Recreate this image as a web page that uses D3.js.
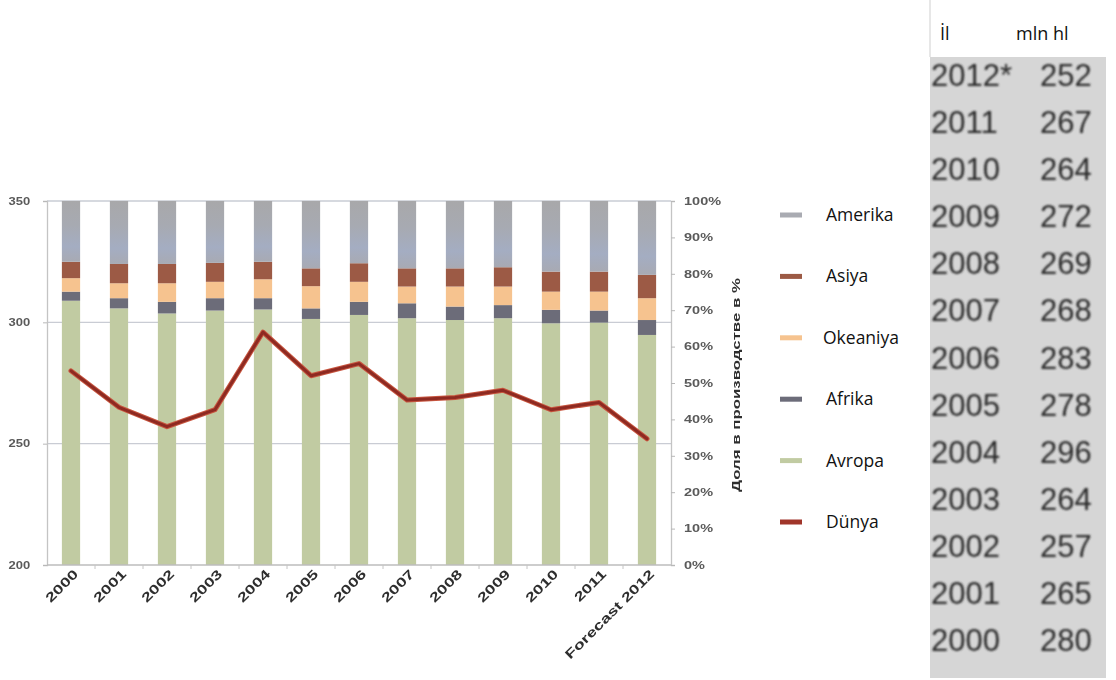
<!DOCTYPE html>
<html>
<head>
<meta charset="utf-8">
<script src="https://cdn.jsdelivr.net/npm/d3@7/dist/d3.min.js"></script>
<style>
  html, body { margin: 0; padding: 0; background: #fff; }
  svg { display: block; }
</style>
</head>
<body>
<svg id="chart" width="1116" height="680"></svg>
<script>
// Years on the category axis
const years = ["2000", "2001", "2002", "2003", "2004", "2005", "2006",
               "2007", "2008", "2009", "2010", "2011", "Forecast 2012"];

// Regional shares of production, % (stacked bottom to top)
const avropa   = [72.6, 70.5, 69.1, 69.9, 70.2, 67.6, 68.7, 67.8, 67.3, 67.8, 66.4, 66.6, 63.2];
const afrika   = [2.5, 2.8, 3.2, 3.4, 3.1, 2.9, 3.6, 4.1, 3.7, 3.6, 3.7, 3.3, 4.1];
const okeaniya = [3.7, 4.1, 5.1, 4.5, 5.2, 6.1, 5.5, 4.6, 5.5, 5.1, 5.0, 5.2, 6.0];
const asiya    = [4.5, 5.3, 5.3, 5.2, 4.8, 4.9, 5.1, 5.0, 5.0, 5.3, 5.5, 5.5, 6.4];
const amerika  = [16.7, 17.3, 17.3, 17.0, 16.7, 18.5, 17.1, 18.5, 18.5, 18.2, 19.4, 19.4, 20.3];

// World production, mln hl
const dunya = [280, 265, 257, 264, 296, 278, 283, 268, 269, 272, 264, 267, 252];

// Axis ticks
const leftTicks = [200, 250, 300, 350];
const pctTicks = [0, 10, 20, 30, 40, 50, 60, 70, 80, 90, 100];

// Table row labels (newest first)
const tableYears = ["2012*", "2011", "2010", "2009", "2008", "2007", "2006",
                    "2005", "2004", "2003", "2002", "2001", "2000"];

const seriesNames = ["Avropa", "Afrika", "Okeaniya", "Asiya", "Amerika"];
const seriesData = [avropa, afrika, okeaniya, asiya, amerika];
const colors = {
  Amerika: "#a9abb2",
  Asiya: "#9c5a44",
  Okeaniya: "#f6c38f",
  Afrika: "#6c6c79",
  Avropa: "#c1cba2",
  "Dünya": "#a0342a"
};

const svg = d3.select("#chart");
const defs = svg.append("defs");
defs.append("filter").attr("id", "soft")
  .append("feGaussianBlur").attr("stdDeviation", 0.55);
defs.append("filter").attr("id", "softer")
  .append("feGaussianBlur").attr("stdDeviation", 0.8);
const grad = defs.append("linearGradient").attr("id", "amerGrad")
  .attr("x1", 0).attr("y1", 0).attr("x2", 0).attr("y2", 1);
grad.append("stop").attr("offset", "0%").attr("stop-color", "#a8a8aa");
grad.append("stop").attr("offset", "40%").attr("stop-color", "#a7aab2");
grad.append("stop").attr("offset", "75%").attr("stop-color", "#a4adc2");
grad.append("stop").attr("offset", "100%").attr("stop-color", "#a8aab3");

const plot = { left: 47, right: 671, top: 201, bottom: 565 };

const x = d3.scaleBand().domain(years)
  .range([plot.left, plot.right]).paddingInner(0.62).paddingOuter(0.31);
const yLeft = d3.scaleLinear().domain([200, 350]).range([plot.bottom, plot.top]);
const yPct = d3.scaleLinear().domain([0, 100]).range([plot.bottom, plot.top]);

const g = svg.append("g").attr("filter", "url(#soft)");

// Horizontal gridlines
g.append("g").selectAll("line").data(leftTicks.filter(d => d > 200)).join("line")
  .attr("x1", plot.left).attr("x2", plot.right)
  .attr("y1", d => yLeft(d)).attr("y2", d => yLeft(d))
  .attr("stroke", "#c9ccd4").attr("stroke-width", 1.3);

// Stacked bars
const rows = years.map((yr, i) => {
  const r = { year: yr };
  seriesNames.forEach((s, k) => r[s] = seriesData[k][i]);
  return r;
});
const stack = d3.stack().keys(seriesNames)(rows);
g.append("g").selectAll("g").data(stack).join("g")
  .attr("fill", d => d.key === "Amerika" ? "url(#amerGrad)" : colors[d.key])
  .selectAll("rect").data(d => d).join("rect")
  .attr("x", d => x(d.data.year))
  .attr("width", x.bandwidth())
  .attr("y", d => yPct(d[1]))
  .attr("height", d => yPct(d[0]) - yPct(d[1]));

// Left axis
const axL = g.append("g").attr("transform", `translate(${plot.left},0)`)
  .call(d3.axisLeft(yLeft).tickValues(leftTicks).tickSize(4).tickPadding(9));
axL.select(".domain").attr("stroke", "#c4c4c4").attr("stroke-width", 1.3);
axL.selectAll(".tick line").attr("stroke", "#b8b8b8");
axL.selectAll(".tick text")
  .attr("font-family", "Liberation Sans, Arial, sans-serif")
  .attr("font-size", 10).attr("font-weight", "bold").attr("fill", "#5a5a5a")
  .attr("transform", "scale(1.3,1)");

// Bottom axis
const axB = g.append("g").attr("transform", `translate(0,${plot.bottom})`);
axB.append("line").attr("x1", plot.left).attr("x2", plot.right)
  .attr("stroke", "#bdbdbd").attr("stroke-width", 1.3);
axB.selectAll("line.tk").data(years.slice(1)).join("line").attr("class", "tk")
  .attr("x1", d => x(d) - x.step() * x.paddingInner() / 2)
  .attr("x2", d => x(d) - x.step() * x.paddingInner() / 2)
  .attr("y1", 0).attr("y2", 4).attr("stroke", "#c4c4c4");
axB.selectAll("text").data(years).join("text")
  .attr("font-family", "Liberation Sans, Arial, sans-serif")
  .attr("font-size", 13).attr("font-weight", "bold").attr("fill", "#2e2e2e")
  .attr("text-anchor", "end")
  .attr("transform", d => `translate(${x(d) + x.bandwidth() / 2 + 8},10) rotate(-45)`)
  .text(d => d)
  .each(function() {
    const len = this.getComputedTextLength();
    d3.select(this).attr("textLength", len * 1.38).attr("lengthAdjust", "spacingAndGlyphs");
  });

// Right axis (percent)
const axR = g.append("g").attr("transform", `translate(${plot.right},0)`)
  .call(d3.axisRight(yPct).tickValues(pctTicks).tickSize(4).tickPadding(5)
    .tickFormat(d => d + "%"));
axR.select(".domain").attr("stroke", "#c4c4c4").attr("stroke-width", 1.3);
axR.selectAll(".tick line").attr("stroke", "#b8b8b8");
axR.selectAll(".tick text")
  .attr("font-family", "Liberation Sans, Arial, sans-serif")
  .attr("font-size", 10).attr("font-weight", "bold").attr("fill", "#5a5a5a")
  .attr("transform", "scale(1.45,1)");

// Right axis title
g.append("text")
  .attr("transform", `translate(740,${(plot.top + plot.bottom) / 2 + 2}) rotate(-90)`)
  .attr("text-anchor", "middle")
  .attr("font-family", "Liberation Sans, Arial, sans-serif")
  .attr("font-size", 11.5).attr("font-weight", "bold").attr("fill", "#2e2e2e")
  .attr("textLength", 214).attr("lengthAdjust", "spacingAndGlyphs")
  .text("Доля в производстве в %");

// World production line
const line = d3.line()
  .x((d, i) => x(years[i]) + x.bandwidth() / 2)
  .y(d => yLeft(d));
g.append("path").datum(dunya).attr("d", line)
  .attr("fill", "none").attr("stroke", "#c8553f").attr("stroke-width", 5)
  .attr("stroke-linejoin", "round").attr("stroke-linecap", "round");
g.append("path").datum(dunya).attr("d", line)
  .attr("fill", "none").attr("stroke", "#8e2b22").attr("stroke-width", 3)
  .attr("stroke-linejoin", "round").attr("stroke-linecap", "round");

// Legend
const legendNames = ["Amerika", "Asiya", "Okeaniya", "Afrika", "Avropa", "Dünya"];
const ly = d3.scalePoint().domain(legendNames).range([215, 522]);
const leg = svg.append("g");
leg.selectAll("rect").data(legendNames).join("rect")
  .attr("x", 780).attr("y", d => ly(d) - 2.5)
  .attr("width", 22).attr("height", 5)
  .attr("fill", d => colors[d]).attr("filter", "url(#soft)");
leg.selectAll("text").data(legendNames).join("text")
  .attr("x", d => d === "Okeaniya" ? 823 : 826)
  .attr("y", d => ly(d) + 6)
  .attr("font-family", "Open Sans, sans-serif")
  .attr("font-size", 17.5).attr("fill", "#111")
  .text(d => d);

// Production table
const tbl = svg.append("g");
const rowY = d3.scalePoint().domain(tableYears).range([75, 640]);
tbl.append("rect").attr("x", 930).attr("y", 57).attr("width", 176).attr("height", 621)
  .attr("fill", "#d6d6d6").attr("filter", "url(#soft)");
tbl.append("line").attr("x1", 930).attr("x2", 930).attr("y1", 0).attr("y2", 57)
  .attr("stroke", "#cfcfcf");
tbl.append("text").attr("x", 940).attr("y", 40)
  .attr("font-family", "Open Sans, sans-serif").attr("font-size", 18).attr("fill", "#111")
  .text("İl");
tbl.append("text").attr("x", 1016).attr("y", 40)
  .attr("font-family", "Open Sans, sans-serif").attr("font-size", 18).attr("fill", "#111")
  .text("mln hl");
const tRows = tbl.append("g").attr("filter", "url(#softer)");
const tableValues = dunya.slice().reverse();
tRows.selectAll("text.yr").data(tableYears).join("text").attr("class", "yr")
  .attr("x", 931).attr("y", d => rowY(d) + 11)
  .attr("font-family", "Liberation Sans Narrow, Arial Narrow, sans-serif")
  .attr("font-size", 31).attr("fill", "#2a2a2a")
  .text(d => d);
tRows.selectAll("text.val").data(tableValues).join("text").attr("class", "val")
  .attr("x", 1040).attr("y", (d, i) => rowY(tableYears[i]) + 11)
  .attr("font-family", "Liberation Sans Narrow, Arial Narrow, sans-serif")
  .attr("font-size", 31).attr("fill", "#2a2a2a")
  .text(d => d);
</script>
</body>
</html>
